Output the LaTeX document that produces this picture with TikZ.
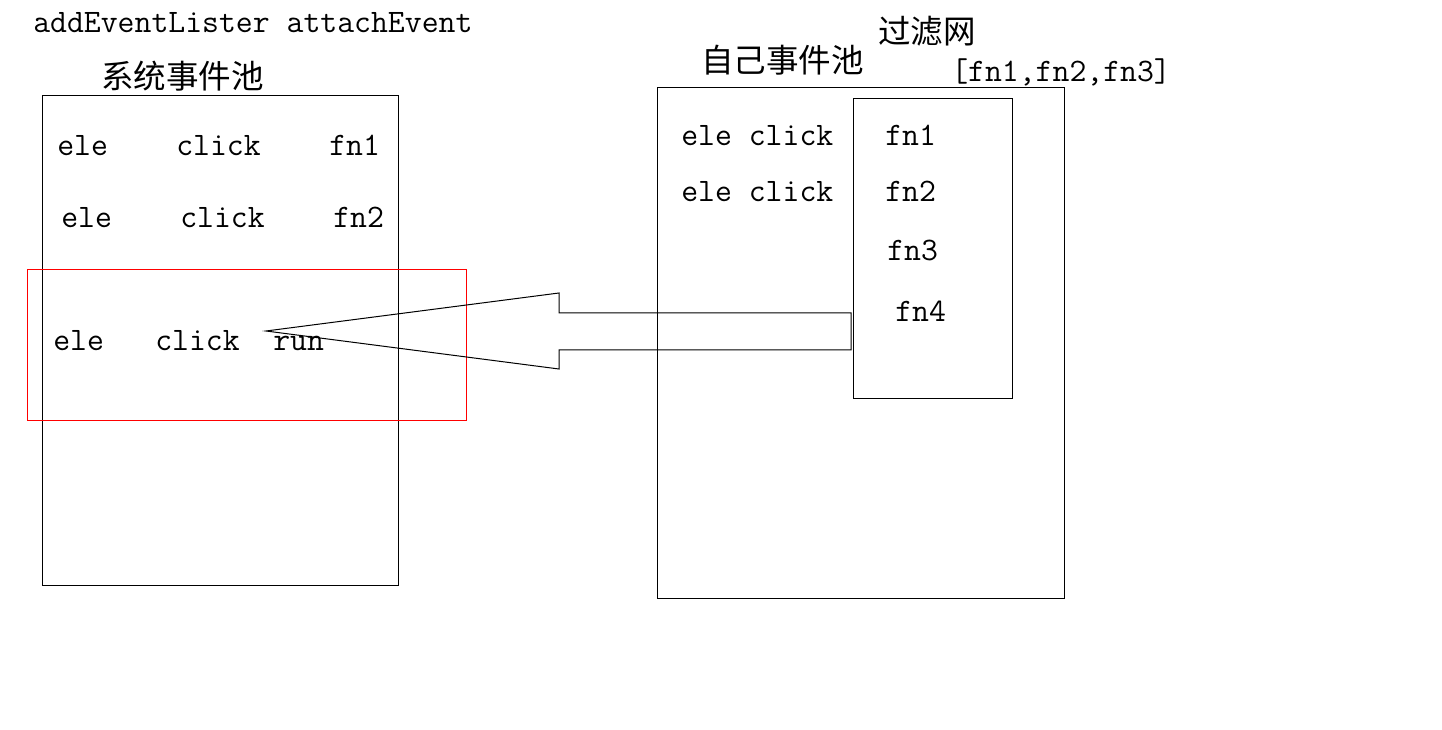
\documentclass[tikz,border=0pt]{standalone}
\usepackage{fontspec}
\newfontfamily\cjk{Noto Sans CJK SC}
\begin{document}
\begin{tikzpicture}[x=0.75pt,y=-0.75pt,
  lbl/.style={anchor=base west,inner sep=0pt,font=\ttfamily\fontsize{24.6}{24.6}\selectfont},
  cj/.style={anchor=base west,inner sep=0pt,font=\cjk\fontsize{24.4}{24.4}\selectfont},
  box/.style={draw=black,line width=0.75pt},
  redbox/.style={draw=red,line width=0.75pt},
  blockarrow/.style={draw=black,line width=0.75pt,line join=miter}]
\useasboundingbox (0,0) rectangle (1442,730);
% boxes
\node[box,minimum width=356*0.75pt,minimum height=490*0.75pt,anchor=north west,inner sep=0pt] (sys) at (42,95) {};
\node[box,minimum width=407*0.75pt,minimum height=511*0.75pt,anchor=north west,inner sep=0pt] (own) at (657,87) {};
\node[box,minimum width=159*0.75pt,minimum height=300*0.75pt,anchor=north west,inner sep=0pt] (filter) at (853,98) {};
\node[redbox,minimum width=439*0.75pt,minimum height=151*0.75pt,anchor=north west,inner sep=0pt] (hl) at (27,269) {};
% titles
\node[lbl] (t1) at (33,33) {addEventLister attachEvent};
\node[cj] (t2) at (101,89) {系统事件池};
\node[cj] (t3) at (701,73) {自己事件池};
\node[cj] (t4) at (878,44) {过滤网};
\node[lbl] (t5) at (951,82) {[fn1,fn2,fn3]};
% left rows
\node[lbl] (a1) at (57,156) {ele};
\node[lbl] (b1) at (176,156) {click};
\node[lbl] (c1) at (329,156) {fn1};
\node[lbl] (a2) at (61,228) {ele};
\node[lbl] (b2) at (180,228) {click};
\node[lbl] (c2) at (333,228) {fn2};
\node[lbl] (a3) at (53,351) {ele};
\node[lbl] (b3) at (155,351) {click};
\node[lbl] (c3) at (273,351) {run};
% right rows
\node[lbl] (r1) at (681,146) {ele click};
\node[lbl] (r2) at (681,202) {ele click};
\node[lbl] (f1) at (885,146) {fn1};
\node[lbl] (f2) at (885,202) {fn2};
\node[lbl] (f3) at (887,261) {fn3};
\node[lbl] (f4) at (895,322) {fn4};
% block arrow
\coordinate (tip) at (266,331);
\coordinate (tail) at (851,331);
\draw[blockarrow] (tip) -- (559,293) -- (559,313) -- (tail |- 0,313) -- (tail |- 0,350) -- (559,350) -- (559,369) -- cycle;
\end{tikzpicture}
\end{document}
